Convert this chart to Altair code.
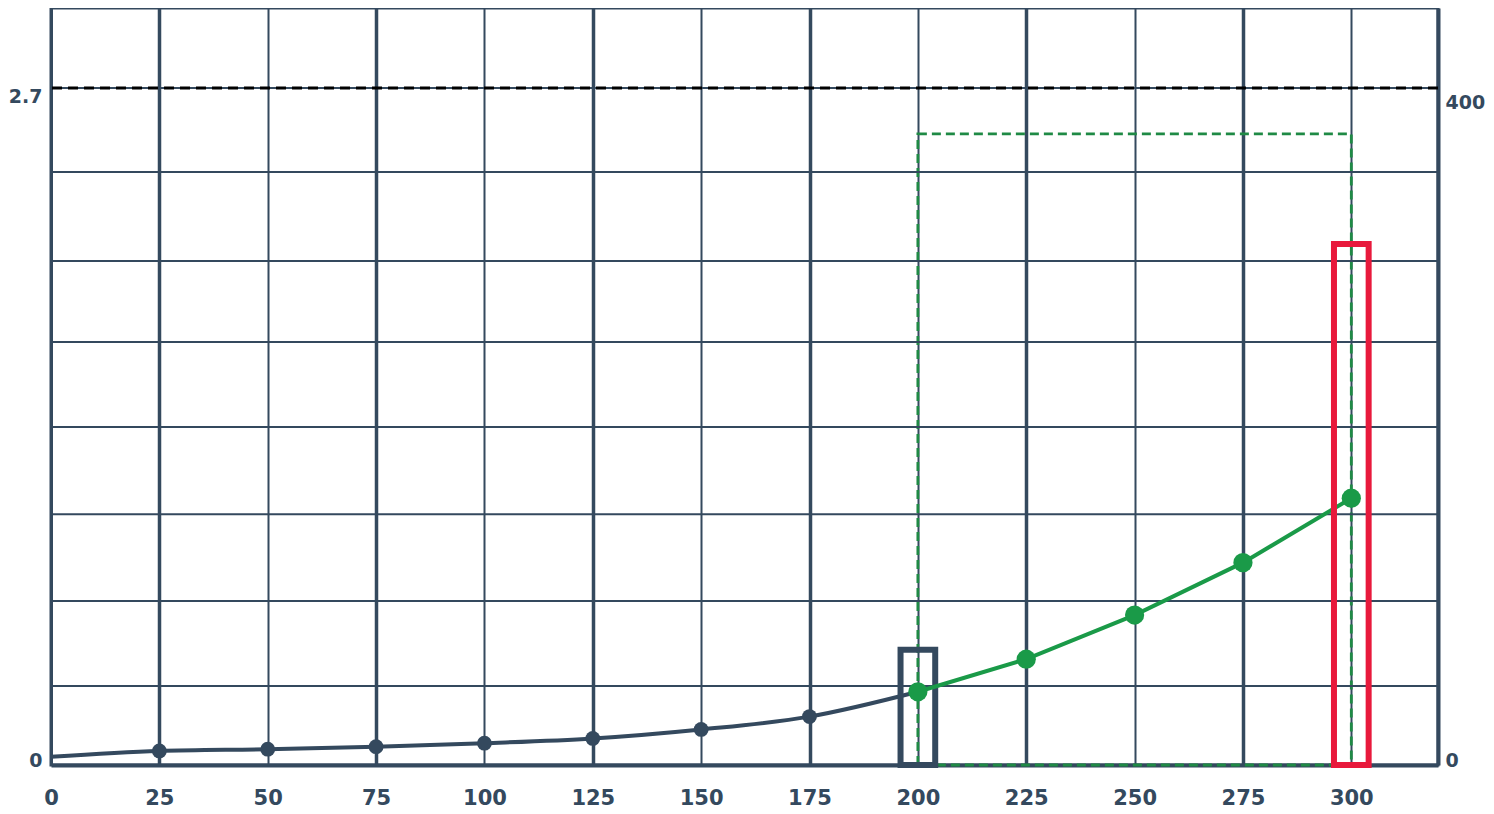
import altair as alt
import pandas as pd

# ---- data ----
x_ticks = [0, 25, 50, 75, 100, 125, 150, 175, 200, 225, 250, 275, 300]
left_ticks = [0, 2.7]
right_ticks = [0, 400]

dark_x = [0, 25, 50, 75, 100, 125, 150, 175, 200]
dark_y = [0.033, 0.056, 0.063, 0.073, 0.087, 0.106, 0.142, 0.193, 0.292]

green_x = [200, 225, 250, 275, 300]
green_y = [0.292, 0.422, 0.598, 0.807, 1.064]

h_grid = [0.315, 0.654, 1.0, 1.348, 1.687, 2.01, 2.365, 2.7]
ref_level = [2.7]

dark_box = {"x": [196], "x2": [204], "y": [0], "y2": [0.46]}
red_box = {"x": [296], "x2": [304], "y": [0], "y2": [2.078]}
green_box = {"x": [200], "x2": [300], "y": [0], "y2": [376]}  # right-axis units

# ---- styling ----
SLATE = "#34495e"
GREEN = "#1a9a48"
GREEN_DASH = "#1f8a45"
RED = "#e8193c"
FONT = "DejaVu Sans"
LABEL = "'' + datum.value"

X_DOMAIN = [0, 320]
YL_DOMAIN = [0, 3.019]
YR_DOMAIN = [0, 451]

label_off = {"condition": {"test": "datum.value == 0", "value": -5}, "value": 9}

x_axis = alt.Axis(
    values=x_ticks, title=None, grid=True, gridColor=SLATE, gridOpacity=1,
    gridWidth={"condition": {"test": "datum.value % 50 == 25", "value": 3.5}, "value": 2},
    ticks=False, tickSize=0, labelPadding=22, labelFlush=False, labelExpr=LABEL,
    domain=True, domainColor=SLATE, domainWidth=4,
    labelFont=FONT, labelFontSize=21, labelFontWeight="bold", labelColor=SLATE,
)
yl_axis = alt.Axis(
    values=left_ticks, title=None, grid=False, orient="left", labelExpr=LABEL,
    ticks=False, tickSize=0, labelPadding=9, labelOffset=label_off,
    domain=True, domainColor=SLATE, domainWidth=3,
    labelFont=FONT, labelFontSize=19, labelFontWeight="bold", labelColor=SLATE,
)
yr_axis = alt.Axis(
    values=right_ticks, title=None, grid=False, orient="right", labelExpr=LABEL,
    ticks=False, tickSize=0, labelPadding=7, labelOffset=label_off,
    domain=True, domainColor=SLATE, domainWidth=4,
    labelFont=FONT, labelFontSize=19, labelFontWeight="bold", labelColor=SLATE,
)


def X(f="x"):
    return alt.X(f, type="quantitative", scale=alt.Scale(domain=X_DOMAIN, nice=False, zero=False), axis=x_axis)


def YL(f="y"):
    return alt.Y(f, type="quantitative", scale=alt.Scale(domain=YL_DOMAIN, nice=False, zero=False), axis=yl_axis)


def YR(f="y"):
    return alt.Y(f, type="quantitative", scale=alt.Scale(domain=YR_DOMAIN, nice=False, zero=False), axis=yr_axis)


dark_df = pd.DataFrame({"x": dark_x, "y": dark_y})
green_df = pd.DataFrame({"x": green_x, "y": green_y})
hgrid_df = pd.DataFrame({"y": h_grid})
ref_df = pd.DataFrame({"y": ref_level})

# right-scale layer: dashed green box
gbox = alt.Chart(pd.DataFrame(green_box)).mark_rect(
    fillOpacity=0, stroke=GREEN_DASH, strokeWidth=2.8, strokeDash=[9, 5]
).encode(x=X("x"), x2="x2", y=YR("y"), y2="y2")

hgrid = alt.Chart(hgrid_df).mark_rule(color=SLATE, strokeWidth=2).encode(y=YL("y"))
ref = alt.Chart(ref_df).mark_rule(color="#000000", strokeWidth=3, strokeDash=[10, 6]).encode(y=YL("y"))

dark_line = alt.Chart(dark_df).mark_line(color=SLATE, strokeWidth=4, interpolate="monotone").encode(
    x=X("x"), y=YL("y"))
dark_pts = alt.Chart(dark_df).transform_filter("datum.x > 0 && datum.x < 200").mark_point(
    filled=True, color=SLATE, size=220, opacity=1).encode(x=X("x"), y=YL("y"))

dbox = alt.Chart(pd.DataFrame(dark_box)).mark_rect(
    fillOpacity=0, stroke=SLATE, strokeWidth=6
).encode(x=X("x"), x2="x2", y=YL("y"), y2="y2")

green_line = alt.Chart(green_df).mark_line(color=GREEN, strokeWidth=4).encode(x=X("x"), y=YL("y"))
green_pts = alt.Chart(green_df).mark_point(filled=True, color=GREEN, size=370, opacity=1).encode(
    x=X("x"), y=YL("y"))

rbox = alt.Chart(pd.DataFrame(red_box)).mark_rect(
    fillOpacity=0, stroke=RED, strokeWidth=6
).encode(x=X("x"), x2="x2", y=YL("y"), y2="y2")

left = alt.layer(hgrid, ref, dark_line, dark_pts, dbox, green_line, green_pts, rbox)

chart = (
    alt.layer(gbox, left)
    .resolve_scale(y="independent")
    .properties(
        width=1387, height=757,
        autosize=alt.AutoSizeParams(type="none"),
        padding={"left": 43, "top": 0, "right": 48, "bottom": 47},
        background="white",
    )
    .configure_view(stroke=SLATE, strokeWidth=3)
)

chart.save("out.html", embed_options={"renderer": "svg", "actions": False})
